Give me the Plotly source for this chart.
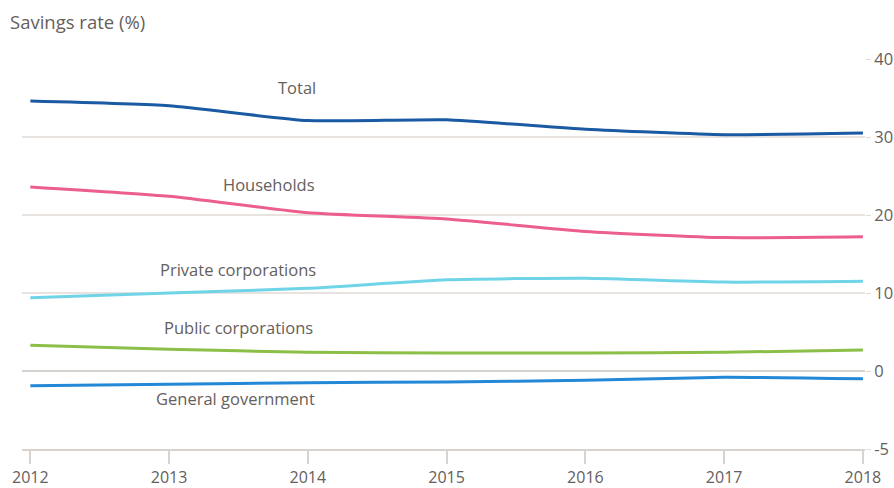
import plotly.graph_objects as go

years = [2012, 2013, 2014, 2015, 2016, 2017, 2018]
total = [34.6, 34.0, 32.1, 32.2, 31.0, 30.3, 30.5]
households = [23.6, 22.4, 20.3, 19.5, 17.9, 17.1, 17.2]
private_corp = [9.4, 10.0, 10.6, 11.7, 11.9, 11.4, 11.5]
public_corp = [3.3, 2.8, 2.4, 2.3, 2.3, 2.4, 2.7]
general_gov = [-1.9, -1.7, -1.5, -1.4, -1.2, -0.8, -1.0]

y_tickvals = [-10, 0, 10, 20, 30, 40]
y_ticktext = ["-5", "0", "10", "20", "30", "40"]

series = [
    ("Total", total, "#1a5aa3", 2013.92, 36.4),
    ("Households", households, "#eb5e8d", 2013.72, 23.9),
    ("Private corporations", private_corp, "#6fd4e7", 2013.5, 13.0),
    ("Public corporations", public_corp, "#8cbf47", 2013.5, 5.6),
    ("General government", general_gov, "#2388d6", 2013.48, -3.5),
]

TXT = "#66605c"
FONT = "Open Sans, sans-serif"

fig = go.Figure()
for name, vals, col, lx, ly in series:
    fig.add_trace(go.Scatter(x=years, y=vals, mode="lines", name=name,
                             line=dict(color=col, width=3, shape="spline", smoothing=0.5),
                             showlegend=False, hoverinfo="x+y+name"))
    fig.add_annotation(x=lx, y=ly, text=name, showarrow=False,
                       font=dict(family=FONT, size=16.5, color=TXT))

fig.update_layout(
    width=894, height=488,
    margin=dict(l=22, r=29, t=59, b=39),
    paper_bgcolor="white", plot_bgcolor="white",
    font=dict(family=FONT, color=TXT, size=16),
    xaxis=dict(range=[2011.94, 2018.015], tickvals=years, ticktext=[str(y) for y in years],
               automargin=False,
               showgrid=False, zeroline=False, showline=True, linecolor="#d8d3ce", linewidth=2,
               ticks="outside", ticklen=13, tickwidth=2, tickcolor="#d8d3ce",
               tickfont=dict(size=16, color=TXT, family=FONT)),
    yaxis=dict(range=[-10, 40], side="right", tickvals=y_tickvals, ticktext=y_ticktext,
               automargin=False,
               showgrid=True, gridcolor="#e8e3de", gridwidth=1.5,
               zeroline=True, zerolinecolor="#d6d2ce", zerolinewidth=2,
               showline=False, ticks="outside", ticklen=5, tickcolor="#e0dbd6",
               tickfont=dict(size=16.5, color=TXT, family=FONT)),
)
fig.add_annotation(xref="paper", yref="paper", x=-14/843, y=1 + 37/390, xanchor="left",
                   yanchor="middle", text="Savings rate (%)", showarrow=False,
                   font=dict(family=FONT, size=18.5, color=TXT))

fig.write_html("out.html")
